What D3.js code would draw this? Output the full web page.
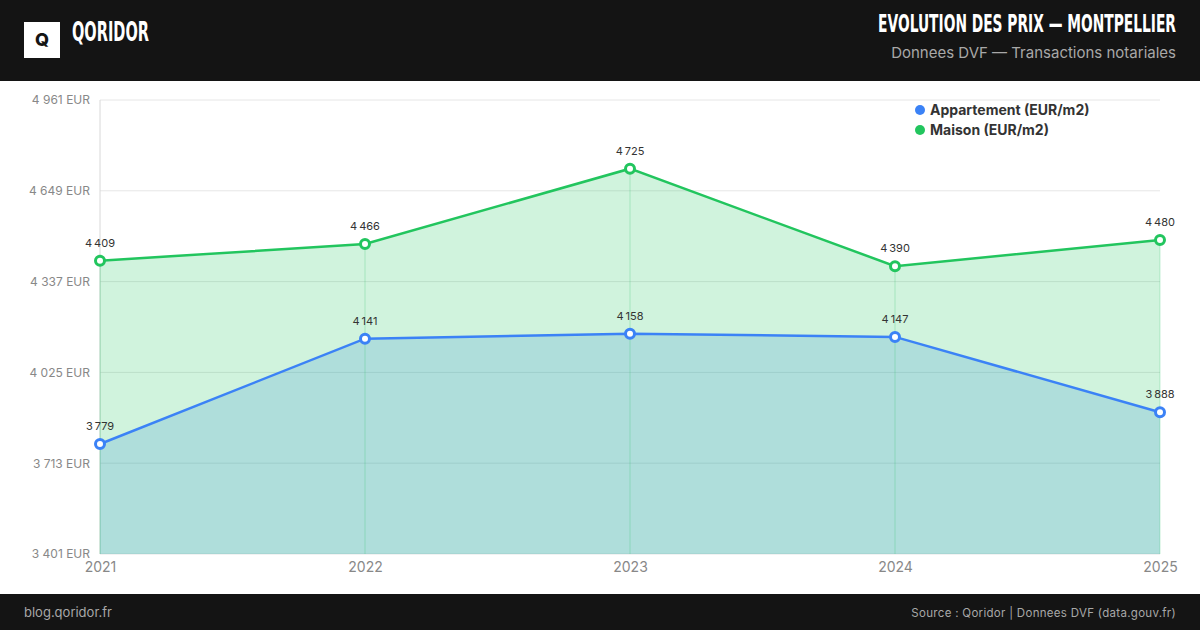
<!DOCTYPE html>
<html>
<head>
<meta charset="utf-8">
<script src="https://cdn.jsdelivr.net/npm/d3@7"></script>
<style>
  html, body { margin: 0; padding: 0; background: #fff; }
  svg { display: block; }
</style>
</head>
<body>
<svg id="chart" width="1200" height="630"></svg>
<script>
// ---- Data ----
const years = ["2021", "2022", "2023", "2024", "2025"];
const appartement = [3779, 4141, 4158, 4147, 3888];
const maison = [4409, 4466, 4725, 4390, 4480];
const seriesNames = ["Appartement (EUR/m2)", "Maison (EUR/m2)"];
const yTicks = [3401, 3713, 4025, 4337, 4649, 4961];

// ---- Setup ----
const W = 1200, H = 630;
const svg = d3.select("#chart");
const bodyFont = "Inter, 'Open Sans', 'Noto Sans', sans-serif";
const condFont = "'Liberation Sans Narrow', 'DejaVu Sans Condensed', 'DejaVu Sans', sans-serif";
const blue = "#3b82f6", green = "#22c55e";

const loc = d3.formatLocale({decimal: ",", thousands: "\u2009", grouping: [3], currency: ["", ""]});
const fmt = loc.format(",d");
const fmtAxis = d3.formatLocale({decimal: ",", thousands: " ", grouping: [3], currency: ["", ""]}).format(",d");

const plot = {left: 100, right: 1160, top: 100, bottom: 554};
const x = d3.scalePoint().domain(years).range([plot.left, plot.right]);
const y = d3.scaleLinear().domain([yTicks[0], yTicks[yTicks.length - 1]]).range([plot.bottom, plot.top]);

// fit a condensed text to a target width by horizontal scaling
function fitText(sel, ax, ay, width, anchor) {
  const w = sel.node().getComputedTextLength();
  const sx = width / w;
  sel.attr("x", 0).attr("y", 0).attr("text-anchor", anchor)
     .attr("transform", `translate(${ax},${ay}) scale(${sx},1)`);
}

// ---- Header ----
svg.append("rect").attr("x", 0).attr("y", 0).attr("width", W).attr("height", 81).attr("fill", "#141414");
svg.append("rect").attr("x", 24).attr("y", 22).attr("width", 36).attr("height", 36).attr("fill", "#ffffff");
svg.append("text").attr("x", 42).attr("y", 46).attr("text-anchor", "middle")
  .attr("font-family", bodyFont).attr("font-weight", 800).attr("font-size", 18).attr("fill", "#141414").text("Q");
const brand = svg.append("text")
  .attr("font-family", condFont).attr("font-weight", 700).attr("font-size", 27).attr("fill", "#fff")
  .text("QORIDOR");
fitText(brand, 72, 41, 77, "start");
const title = svg.append("text")
  .attr("font-family", condFont).attr("font-weight", 700).attr("font-size", 25).attr("fill", "#fff")
  .text("EVOLUTION DES PRIX \u2014 MONTPELLIER");
fitText(title, 1176, 32, 298, "end");
svg.append("text").attr("x", 1176).attr("y", 58).attr("text-anchor", "end")
  .attr("font-family", bodyFont).attr("font-size", 15).attr("fill", "#a8a8a8")
  .text("Donnees DVF \u2014 Transactions notariales");

// ---- Footer ----
svg.append("rect").attr("x", 0).attr("y", 594).attr("width", W).attr("height", 36).attr("fill", "#141414");
svg.append("text").attr("x", 24).attr("y", 617)
  .attr("font-family", bodyFont).attr("font-size", 13).attr("fill", "#a8a8a8").text("blog.qoridor.fr");
svg.append("text").attr("x", 1176).attr("y", 617).attr("text-anchor", "end")
  .attr("font-family", bodyFont).attr("font-size", 11.5).attr("fill", "#a8a8a8").attr("letter-spacing", 0.3)
  .text("Source : Qoridor | Donnees DVF (data.gouv.fr)");

// ---- Grid ----
const g = svg.append("g");
g.append("g").selectAll("line").data(yTicks).join("line")
  .attr("x1", plot.left).attr("x2", plot.right)
  .attr("y1", d => y(d)).attr("y2", d => y(d))
  .attr("stroke", "#e6e6e6").attr("stroke-width", 1);
g.append("line").attr("x1", plot.left).attr("x2", plot.left).attr("y1", plot.top).attr("y2", plot.bottom)
  .attr("stroke", "#d8d8d8");

// Y axis labels
const yAxis = d3.axisLeft(y).tickValues(yTicks).tickSize(0).tickPadding(10).tickFormat(d => fmtAxis(d) + " EUR");
const ya = svg.append("g").attr("transform", `translate(${plot.left},0)`).call(yAxis);
ya.select(".domain").remove();
ya.selectAll("text").attr("font-family", bodyFont).attr("font-size", 12).attr("fill", "#888");

// X axis labels
const xAxis = d3.axisBottom(x).tickSize(0).tickPadding(8);
const xa = svg.append("g").attr("transform", `translate(0,${plot.bottom})`).call(xAxis);
xa.select(".domain").remove();
xa.selectAll("text").attr("font-family", bodyFont).attr("font-size", 14).attr("fill", "#888");

// ---- Areas ----
const series = [
  {name: seriesNames[0], values: appartement, color: blue, fillOp: 0.21},
  {name: seriesNames[1], values: maison, color: green, fillOp: 0.21}
];
const area = d3.area().x((d, i) => x(years[i])).y0(plot.bottom).y1(d => y(d));
const line = d3.line().x((d, i) => x(years[i])).y(d => y(d));

series.forEach(s => {
  svg.append("path").datum(s.values).attr("d", area).attr("fill", s.color).attr("fill-opacity", s.fillOp);
});

// drop lines
svg.append("g").selectAll("line").data(years).join("line")
  .attr("x1", d => x(d)).attr("x2", d => x(d))
  .attr("y1", (d, i) => y(Math.max(maison[i], appartement[i])))
  .attr("y2", plot.bottom)
  .attr("stroke", green).attr("stroke-opacity", 0.25).attr("stroke-width", 1);

series.forEach(s => {
  svg.append("path").datum(s.values).attr("d", line).attr("fill", "none")
    .attr("stroke", s.color).attr("stroke-width", 2.5);
});
series.forEach(s => {
  svg.append("g").selectAll("circle").data(s.values).join("circle")
    .attr("cx", (d, i) => x(years[i])).attr("cy", d => y(d)).attr("r", 4.5)
    .attr("fill", "#fff").attr("stroke", s.color).attr("stroke-width", 3);
  svg.append("g").selectAll("text").data(s.values).join("text")
    .attr("x", (d, i) => x(years[i])).attr("y", d => y(d) - 14)
    .attr("text-anchor", "middle")
    .attr("font-family", bodyFont).attr("font-size", 11).attr("fill", "#333")
    .text(d => fmt(d));
});

// ---- Legend ----
const legend = svg.append("g").attr("transform", "translate(920,110)");
[{n: seriesNames[0], c: blue}, {n: seriesNames[1], c: green}].forEach((it, i) => {
  const row = legend.append("g").attr("transform", `translate(0,${i * 20})`);
  row.append("circle").attr("cx", 0).attr("cy", 0).attr("r", 5).attr("fill", it.c);
  row.append("text").attr("x", 10).attr("y", 5)
    .attr("font-family", bodyFont).attr("font-weight", 700).attr("font-size", 14).attr("fill", "#333")
    .text(it.n);
});
</script>
</body>
</html>
